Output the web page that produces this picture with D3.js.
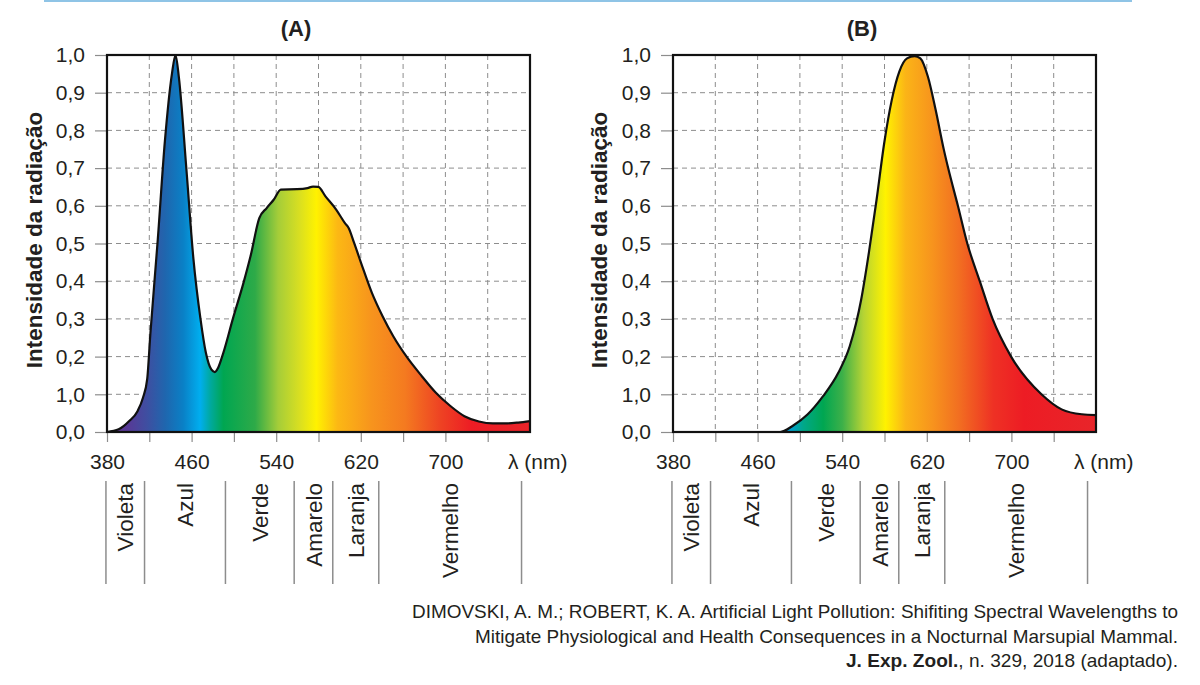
<!DOCTYPE html>
<html>
<head>
<meta charset="utf-8">
<script src="https://cdn.jsdelivr.net/npm/d3@7"></script>
<style>
  body { margin: 0; background: #fff; }
  svg { display: block; }
  text { font-family: "Liberation Sans", Arial, Helvetica, sans-serif; fill: #231f20; }
  .source { font-family: "Liberation Sans Narrow", "Arial Narrow", "Liberation Sans", sans-serif; }
</style>
</head>
<body>
<svg id="chart" width="1200" height="685"></svg>
<script>
// spectrum (A): wavelength in nm, relative intensity
const wavelengthA = [380, 391, 401, 409, 414, 418, 421, 428, 434.7, 441.4, 444.8, 448, 455, 461.7, 468.4,
  473.5, 478.6, 482, 485, 490, 499, 509, 515.7, 524, 531, 537.6, 544.4, 559.6, 569.6, 574.8, 579.8,
  586.6, 596.7, 605, 608.5, 613.6, 620.3, 630.5, 640.6, 650.7, 664, 677.7, 691, 704.7, 718, 731.7,
  745, 758.7, 768.8, 780];
const intensityA = [0, 0.007, 0.029, 0.056, 0.091, 0.14, 0.26, 0.51, 0.77, 0.95, 1.0, 0.94, 0.70, 0.46, 0.30,
  0.21, 0.166, 0.159, 0.17, 0.21, 0.30, 0.395, 0.466, 0.567, 0.594, 0.616, 0.643, 0.644, 0.647, 0.651, 0.65,
  0.625, 0.59, 0.554, 0.541, 0.502, 0.448, 0.369, 0.307, 0.254, 0.197, 0.148, 0.104, 0.069, 0.042, 0.028,
  0.023, 0.023, 0.025, 0.029];

// spectrum (B)
const wavelengthB = [380, 481.4, 493, 507.4, 521.9, 536.3, 547.2, 558, 565.2, 572.5, 579.7, 586.9, 594,
  601.3, 608.5, 613.9, 621, 628.4, 636.1, 640.2, 649.4, 658.3, 670.1, 682.2, 699.7, 728.4,
  747.5, 766.6, 780];
const intensityB = [0, 0, 0.016, 0.047, 0.095, 0.157, 0.228, 0.352, 0.475, 0.616, 0.766, 0.881, 0.956,
  0.991, 0.997, 0.991, 0.943, 0.854, 0.749, 0.70, 0.60, 0.50, 0.40, 0.30, 0.20, 0.10,
  0.06, 0.047, 0.045];

const yTickValues = [0, 0.1, 0.2, 0.3, 0.4, 0.5, 0.6, 0.7, 0.8, 0.9, 1.0];
const yTickLabels = ["0,0", "1,0", "0,2", "0,3", "0,4", "0,5", "0,6", "0,7", "0,8", "0,9", "1,0"];
const xTickValues = [380, 420, 460, 500, 540, 580, 620, 660, 700, 740];
const xTickLabels = [380, 460, 540, 620, 700];

const bandBounds = [379, 415.5, 492, 557, 593.5, 637, 772];
const bandNames = ["Violeta", "Azul", "Verde", "Amarelo", "Laranja", "Vermelho"];

const panelTitles = ["(A)", "(B)"];
const sourceLines = [
  "DIMOVSKI, A. M.; ROBERT, K. A. Artificial Light Pollution: Shifiting Spectral Wavelengths to",
  "Mitigate Physiological and Health Consequences in a Nocturnal Marsupial Mammal."
];
const sourceBold = "J. Exp. Zool.";
const sourceRest = ", n. 329, 2018 (adaptado).";

// fill colours along the wavelength axis
const stopsA = [[380, "#62368f"], [400, "#573a97"], [418, "#3e4fa1"], [435, "#1f66ae"], [452, "#0a80c6"],
  [468, "#00aeef"], [478, "#00a99d"], [490, "#00a651"], [520, "#2eaa48"], [542, "#a5cd39"],
  [562, "#d9df21"], [578, "#fff200"], [598, "#fcb814"], [630, "#f7941d"], [662, "#f47a20"],
  [695, "#ee4323"], [725, "#ed1c24"], [780, "#e8252a"]];
const stopsB = [[480, "#1b7fc4"], [490, "#00a0d8"], [503, "#00a88a"], [522, "#00a651"], [540, "#3cb049"],
  [560, "#b5d334"], [581, "#fff200"], [600, "#fbb417"], [625, "#f7941d"], [650, "#f26f21"],
  [683, "#ee3124"], [712, "#ed1c24"], [780, "#e8252a"]];

const svg = d3.select("#chart");
const defs = svg.append("defs");

svg.append("line")
  .attr("x1", 44).attr("x2", 1132).attr("y1", 1).attr("y2", 1)
  .attr("stroke", "#8fc4e6").attr("stroke-width", 2);

const panels = [
  { left: 107, wl: wavelengthA, val: intensityA, stops: stopsA, title: panelTitles[0], titleX: 296, yTitleX: 34 },
  { left: 673, wl: wavelengthB, val: intensityB, stops: stopsB, title: panelTitles[1], titleX: 862, yTitleX: 599 }
];

const plotW = 423, plotTop = 55, plotBottom = 432;

panels.forEach((p, i) => {
  const x = d3.scaleLinear().domain([380, 780]).range([p.left, p.left + plotW]);
  const y = d3.scaleLinear().domain([0, 1]).range([plotBottom, plotTop]);
  const g = svg.append("g");

  // grid
  g.append("g").selectAll("line")
    .data(yTickValues.slice(1, -1))
    .join("line")
    .attr("x1", x(380)).attr("x2", x(780))
    .attr("y1", (d) => y(d)).attr("y2", (d) => y(d))
    .attr("stroke", "#8d8d8d").attr("stroke-width", 1).attr("stroke-dasharray", "5,4");
  g.append("g").selectAll("line")
    .data(xTickValues.slice(1))
    .join("line")
    .attr("x1", (d) => x(d)).attr("x2", (d) => x(d))
    .attr("y1", plotTop).attr("y2", plotBottom)
    .attr("stroke", "#8d8d8d").attr("stroke-width", 1).attr("stroke-dasharray", "5,4");

  // spectrum fill
  const gradId = "spec" + i;
  defs.append("linearGradient")
    .attr("id", gradId)
    .attr("gradientUnits", "userSpaceOnUse")
    .attr("x1", x(380)).attr("x2", x(780)).attr("y1", 0).attr("y2", 0)
    .selectAll("stop")
    .data(p.stops)
    .join("stop")
    .attr("offset", (d) => (d[0] - 380) / 400)
    .attr("stop-color", (d) => d[1]);

  const pts = p.wl.map((w, k) => [w, p.val[k]]);
  const area = d3.area()
    .x((d) => x(d[0])).y0(y(0)).y1((d) => y(d[1]))
    .curve(d3.curveMonotoneX);
  const line = d3.line()
    .x((d) => x(d[0])).y((d) => y(d[1]))
    .curve(d3.curveMonotoneX);

  g.append("path").attr("d", area(pts)).attr("fill", `url(#${gradId})`);
  g.append("path").attr("d", line(pts)).attr("fill", "none")
    .attr("stroke", "#111").attr("stroke-width", 2.2).attr("stroke-linejoin", "round");

  // axes (ticks only)
  const yAxis = d3.axisLeft(y)
    .tickValues(yTickValues)
    .tickFormat((d, k) => yTickLabels[k])
    .tickSize(12).tickPadding(10);
  const ya = g.append("g").attr("transform", `translate(${p.left},0)`).call(yAxis);
  ya.select(".domain").remove();
  ya.selectAll("line").attr("stroke", "#8d8d8d").attr("stroke-width", 1.2);
  ya.selectAll("text").attr("font-size", 21).attr("fill", "#231f20")
    .attr("font-family", "'Liberation Sans', Arial, sans-serif");

  const xAxis = d3.axisBottom(x)
    .tickValues(xTickValues)
    .tickFormat((d) => (xTickLabels.includes(d) ? d : ""))
    .tickSize(10).tickPadding(12);
  const xa = g.append("g").attr("transform", `translate(0,${plotBottom})`).call(xAxis);
  xa.select(".domain").remove();
  xa.selectAll("line").attr("stroke", "#8d8d8d").attr("stroke-width", 1.2);
  xa.selectAll("text").attr("font-size", 21).attr("fill", "#231f20")
    .attr("font-family", "'Liberation Sans', Arial, sans-serif");

  // frame
  g.append("rect")
    .attr("x", x(380)).attr("y", plotTop)
    .attr("width", x(780) - x(380)).attr("height", plotBottom - plotTop)
    .attr("fill", "none").attr("stroke", "#111").attr("stroke-width", 2.2);

  g.append("text")
    .attr("x", x(780) - 22).attr("y", 469)
    .attr("font-size", 21)
    .text("λ (nm)");

  g.append("text")
    .attr("x", p.titleX).attr("y", 36)
    .attr("text-anchor", "middle")
    .attr("font-size", 22).attr("font-weight", "bold")
    .text(p.title);

  g.append("text")
    .attr("transform", `translate(${p.yTitleX},240) rotate(-90)`)
    .attr("text-anchor", "middle").attr("dy", "0.35em")
    .attr("font-size", 22.5).attr("font-weight", "bold")
    .text("Intensidade da radiação");

  // colour bands below the axis
  g.append("g").selectAll("line")
    .data(bandBounds)
    .join("line")
    .attr("x1", (d) => x(d)).attr("x2", (d) => x(d))
    .attr("y1", 481).attr("y2", 584)
    .attr("stroke", "#8d8d8d").attr("stroke-width", 1.5);

  g.append("g").selectAll("text")
    .data(bandNames)
    .join("text")
    .attr("transform", (d, k) => `translate(${(x(bandBounds[k]) + x(bandBounds[k + 1])) / 2},483) rotate(-90)`)
    .attr("text-anchor", "end").attr("dy", "0.36em")
    .attr("font-size", 22.5)
    .text((d) => d);
});

// source
const src = svg.append("g").attr("class", "source");
src.append("text").attr("class", "source")
  .attr("x", 1178).attr("y", 618).attr("text-anchor", "end")
  .attr("font-size", 19).attr("textLength", 766).attr("lengthAdjust", "spacingAndGlyphs")
  .text(sourceLines[0]);
src.append("text").attr("class", "source")
  .attr("x", 1178).attr("y", 643).attr("text-anchor", "end")
  .attr("font-size", 19).attr("textLength", 703).attr("lengthAdjust", "spacingAndGlyphs")
  .text(sourceLines[1]);
const last = src.append("text").attr("class", "source")
  .attr("x", 1178).attr("y", 667).attr("text-anchor", "end")
  .attr("font-size", 19).attr("textLength", 332).attr("lengthAdjust", "spacingAndGlyphs");
last.append("tspan").attr("font-weight", "bold").text(sourceBold);
last.append("tspan").text(sourceRest);
</script>
</body>
</html>
